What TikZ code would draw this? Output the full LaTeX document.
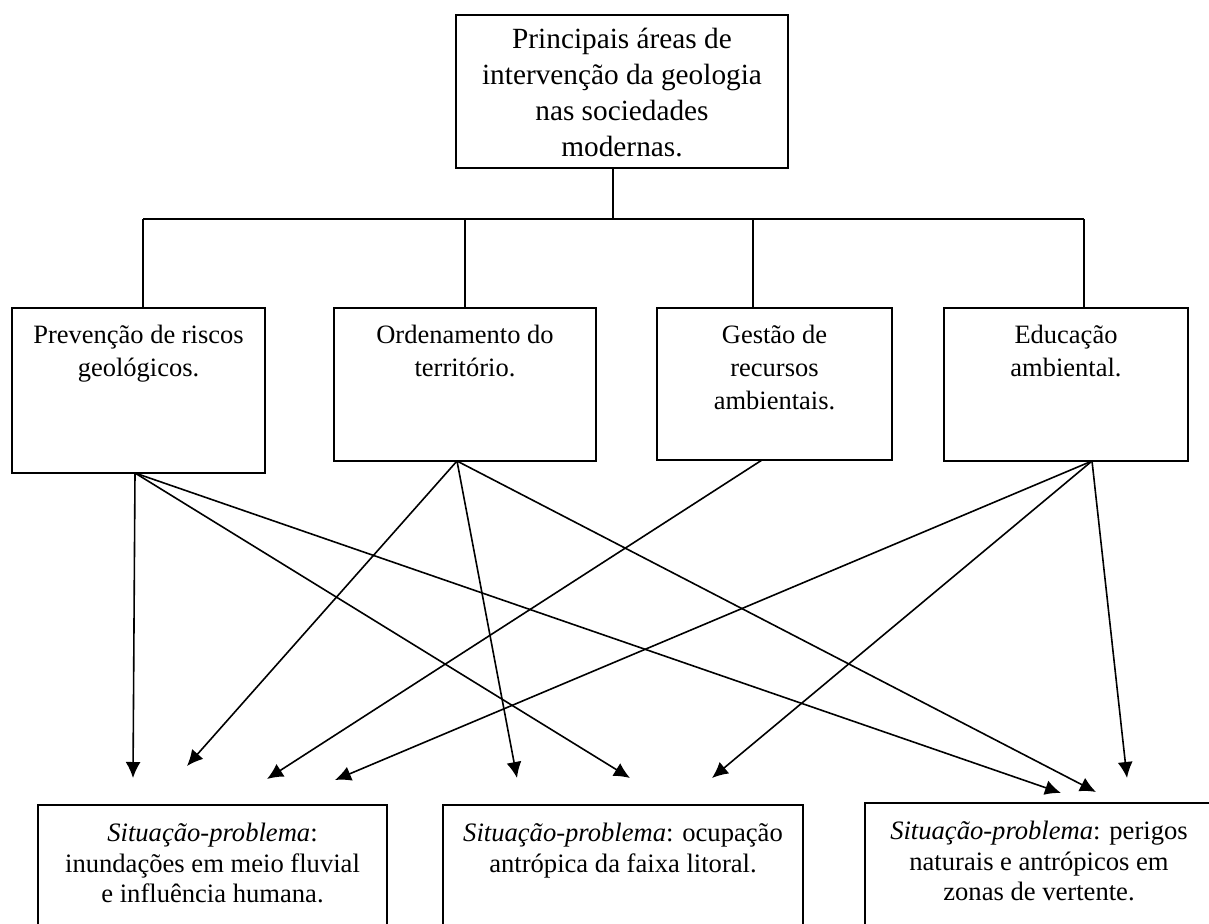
\documentclass[tikz,border=0pt]{standalone}
\usepackage{fontspec}
\setmainfont{Liberation Serif}
\usetikzlibrary{arrows.meta}

\begin{document}
\begin{tikzpicture}[x=1pt, y=-1pt,
  boxnode/.style={draw, line width=1.8pt, rectangle, inner sep=0pt},
  conn/.style={line width=1.6pt},
  arr/.style={line width=1.6pt, -{Latex[length=16pt,width=15pt]}},
  toptext/.style={align=center, inner sep=0pt, anchor=north, font=\fontsize{29.3}{36}\selectfont},
  midtext/.style={align=center, inner sep=0pt, anchor=north, font=\fontsize{26.5}{33}\selectfont},
  lowtext/.style={align=center, inner sep=0pt, anchor=north, font=\fontsize{26.6}{30.5}\selectfont},
]
\clip (0,0) rectangle (1209,923);
\fill[white] (0,0) rectangle (1209,923);

% top box
\node[boxnode, minimum width=332pt, minimum height=153pt] (top) at (622,91.5) {};
\node[toptext] (toplbl) at ([yshift=-14pt]top.north)
  {Principais áreas de\\intervenção da geologia\\nas sociedades\\modernas.};

% areas of intervention
\node[boxnode, minimum width=253pt, minimum height=165pt] (m1) at (138.5,390.5) {};
\node[boxnode, minimum width=262pt, minimum height=153pt] (m2) at (465,384.5) {};
\node[boxnode, minimum width=235pt, minimum height=152pt] (m3) at (774.5,384) {};
\node[boxnode, minimum width=244pt, minimum height=153pt] (m4) at (1066,384.5) {};
\node[midtext] (m1lbl) at ([yshift=-18pt]m1.north) {Prevenção de riscos\\geológicos.};
\node[midtext] (m2lbl) at ([yshift=-18pt]m2.north) {Ordenamento do\\território.};
\node[midtext] (m3lbl) at ([yshift=-18pt]m3.north) {Gestão de\\recursos\\ambientais.};
\node[midtext] (m4lbl) at ([yshift=-18pt]m4.north) {Educação\\ambiental.};

% problem situations
\node[boxnode, minimum width=349pt, minimum height=145pt] (s1) at (212.5,877.5) {};
\node[boxnode, minimum width=360pt, minimum height=145pt] (s2) at (623,877.5) {};
\node[boxnode, minimum width=348pt, minimum height=147pt] (s3) at (1039,876.5) {};
\node[lowtext] (s1lbl) at ([yshift=-19pt]s1.north)
  {\textit{Situação-problema}:\\inundações em meio fluvial\\e influência humana.};
\node[lowtext] (s2lbl) at ([yshift=-19pt]s2.north)
  {\textit{Situação-problema}: ocupação\\antrópica da faixa litoral.};
\node[lowtext] (s3lbl) at ([yshift=-19pt]s3.north)
  {\textit{Situação-problema}: perigos\\naturais e antrópicos em\\zonas de vertente.};

% tree junctions
\coordinate (j0) at (613,219);
\coordinate (j1) at (143,219);
\coordinate (j2) at (465,219);
\coordinate (j3) at (753,219);
\coordinate (j4) at (1084,219);
\draw[conn] (top.south -| j0) -- (j0);
\draw[conn] (j1) -- (j4);
\draw[conn] (j1) -- (j1 |- m1.north);
\draw[conn] (j2) -- (j2 |- m2.north);
\draw[conn] (j3) -- (j3 |- m3.north);
\draw[conn] (j4) -- (j4 |- m4.north);

% arrow origins on the area boxes
\coordinate (o1) at (135,473);
\coordinate (o2) at (457,461);
\coordinate (o3) at (762,460);
\coordinate (o4) at (1092,461);

% arrow tips above the problem boxes
\coordinate (t11) at (133,778);
\coordinate (t12) at (630,778);
\coordinate (t13) at (1061,793);
\coordinate (t21) at (187,766);
\coordinate (t22) at (517,778);
\coordinate (t23) at (1096,792);
\coordinate (t31) at (267,779);
\coordinate (t41) at (335,780);
\coordinate (t42) at (712,778);
\coordinate (t43) at (1127,778);

\draw[arr] (o1) -- (t11);
\draw[arr] (o1) -- (t12);
\draw[arr] (o1) -- (t13);
\draw[arr] (o2) -- (t21);
\draw[arr] (o2) -- (t22);
\draw[arr] (o2) -- (t23);
\draw[arr] (o3) -- (t31);
\draw[arr] (o4) -- (t41);
\draw[arr] (o4) -- (t42);
\draw[arr] (o4) -- (t43);
\end{tikzpicture}
\end{document}
